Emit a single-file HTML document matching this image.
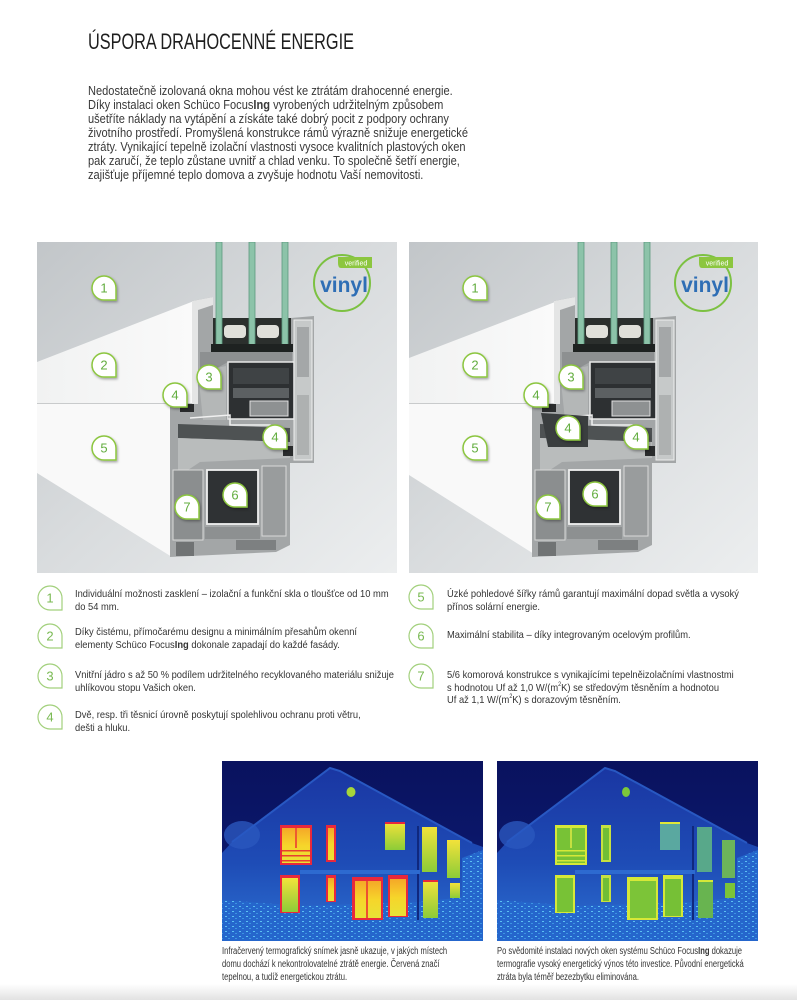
<!DOCTYPE html>
<html><head><meta charset="utf-8">
<style>
html,body{margin:0;padding:0;background:#fff;}
body{width:797px;height:1000px;position:relative;overflow:hidden;font-family:"Liberation Sans","DejaVu Sans",sans-serif;}
.t{position:absolute;white-space:nowrap;transform-origin:0 0;}
.title{left:88px;top:31px;font-size:22px;line-height:22px;color:#1e1e1e;transform:scaleX(0.74);}
.para{left:88px;top:84px;font-size:12.5px;line-height:14px;color:#383838;transform:scaleX(0.885);}
.li{font-size:10.5px;line-height:12.5px;color:#333;transform:scaleX(0.89);}
.cap{font-size:10px;line-height:13px;color:#333;transform:scaleX(0.76);}
sup{font-size:6px;line-height:0;vertical-align:5px;}
.abs{position:absolute;}
</style></head><body>

<div class="t title">ÚSPORA DRAHOCENNÉ ENERGIE</div>

<div class="t para">Nedostatečně izolovaná okna mohou vést ke ztrátám drahocenné energie.<br>Díky instalaci oken Schüco Focus<b>Ing</b> vyrobených udržitelným způsobem<br>ušetříte náklady na vytápění a získáte také dobrý pocit z podpory ochrany<br>životního prostředí. Promyšlená konstrukce rámů výrazně snižuje energetické<br>ztráty. Vynikající tepelně izolační vlastnosti vysoce kvalitních plastových oken<br>pak zaručí, že teplo zůstane uvnitř a chlad venku. To společně šetří energie,<br>zajišťuje příjemné teplo domova a zvyšuje hodnotu Vaší nemovitosti.</div>

<!-- window images -->
<svg class="abs" style="left:37px;top:242px" width="722" height="331" viewBox="37 242 722 331" font-family="Liberation Sans, sans-serif">
<defs>
 <linearGradient id="bg" x1="0" y1="0" x2="1" y2="1">
  <stop offset="0" stop-color="#c2c6c9"/><stop offset="0.5" stop-color="#d9dcde"/><stop offset="1" stop-color="#eceeef"/>
 </linearGradient>
 <linearGradient id="wup" x1="0" y1="0" x2="1" y2="0">
  <stop offset="0" stop-color="#f1f2f2"/><stop offset="1" stop-color="#fafafa"/>
 </linearGradient>
 <clipPath id="c1"><rect x="37" y="242" width="360" height="331"/></clipPath>
 <clipPath id="c2"><rect x="409" y="242" width="349" height="331"/></clipPath>
 <filter id="sh" x="-30%" y="-30%" width="170%" height="170%"><feDropShadow dx="1" dy="1.5" stdDeviation="1.3" flood-color="#000" flood-opacity="0.35"/></filter>
 <path id="tear" d="M-12,0 A12,12 0 0 1 12,0 L12,12 L0,12 A12,12 0 0 1 -12,0 Z"/>
 <g id="prof">
  <polygon points="192,301 213,297 213,350 291,350 291,318 314,316 314,463 290,463 290,545 276,552 170,557 170,404 192,404" fill="#a3a6a7"/>
  <polygon points="192,301 213,297 213,305 198,310 198,404 192,404" fill="#e4e5e5"/>
  <rect x="213" y="318" width="78" height="30" fill="#2b2f2d"/>
  <rect x="224" y="325" width="22" height="13" rx="4" fill="#e0e0da"/>
  <rect x="257" y="325" width="22" height="13" rx="4" fill="#e0e0da"/>
  <rect x="216" y="242" width="6" height="106" fill="#8cc3a9" stroke="#5d9a7f" stroke-width="0.8"/>
  <rect x="249" y="242" width="6" height="106" fill="#8cc3a9" stroke="#5d9a7f" stroke-width="0.8"/>
  <rect x="282" y="242" width="6" height="106" fill="#8cc3a9" stroke="#5d9a7f" stroke-width="0.8"/>
  <rect x="211" y="344" width="82" height="8" fill="#1e2221"/>
  <polygon points="200,352 292,352 292,362 228,362 210,372 200,372" fill="#8d9091"/>
  <polygon points="198,372 226,366 226,420 203,420" fill="#b4b7b7"/>
  <rect x="228" y="362" width="66" height="57" fill="#2d3032" stroke="#e8e8e8" stroke-width="1.5"/>
  <rect x="233" y="368" width="56" height="16" fill="#3f4345"/>
  <rect x="233" y="388" width="56" height="10" fill="#5c6062"/>
  <rect x="250" y="401" width="38" height="15" fill="#8e9192" stroke="#e0e0e0" stroke-width="1"/>
  <rect x="294" y="320" width="18" height="140" fill="#c6c9c9" stroke="#eee" stroke-width="1"/>
  <rect x="297" y="327" width="12" height="50" fill="#a4a7a8"/>
  <rect x="297" y="395" width="12" height="60" fill="#aeb1b1"/>
  <rect x="180" y="404" width="14" height="8" fill="#2a2c2d"/>
  <polyline points="190,418 230,415 230,425 270,425 275,430 288,430" stroke="#f0f0f0" stroke-width="1.5" fill="none"/>
  <polygon points="178,424 290,428 290,442 178,438" fill="#4e5253"/>
  <polygon points="178,438 290,442 290,458 200,462 188,470 178,470" fill="#b9bcbc"/>
  <rect x="283" y="446" width="10" height="10" fill="#2a2c2d"/>
  <rect x="173" y="470" width="30" height="70" fill="#8b8e8f" stroke="#d9d9d9"/>
  <rect x="207" y="470" width="51" height="54" fill="#2f3234" stroke="#f0f0f0" stroke-width="1.8"/>
  <rect x="262" y="466" width="24" height="70" fill="#999c9d" stroke="#d9d9d9"/>
  <rect x="205" y="527" width="55" height="12" fill="#8d9091"/>
  <rect x="176" y="542" width="18" height="14" fill="#707374"/>
  <rect x="236" y="540" width="40" height="10" fill="#7d8081"/>
 </g>
 <g id="vinyl">
  <circle cx="342" cy="283" r="28" fill="none" stroke="#7cc142" stroke-width="2"/>
  <path d="M338,257 L372,257 L372,268 L341,268 Q338,268 338,263 Z" fill="#8cc63f"/>
  <text x="356" y="265.5" font-size="7" fill="#fff" text-anchor="middle">verified</text>
  <text x="344" y="292" font-size="21" font-weight="bold" fill="#2e6eb5" text-anchor="middle">vinyl</text>
 </g>
</defs>

<!-- LEFT IMAGE -->
<g clip-path="url(#c1)">
 <rect x="37" y="242" width="360" height="331" fill="url(#bg)"/>
 <polygon points="37,362 194,301 194,403 37,403" fill="url(#wup)"/>
 <polygon points="37,404 172,404 172,557 37,473" fill="#f9f9f9"/>
 <line x1="37" y1="403.5" x2="192" y2="403.5" stroke="#c9cbcc" stroke-width="1"/>
 <use href="#prof"/>
 <use href="#vinyl"/>
</g>

<!-- RIGHT IMAGE -->
<g clip-path="url(#c2)">
 <rect x="409" y="242" width="349" height="331" fill="url(#bg)"/>
 <polygon points="409,358 555,302 555,403 409,403" fill="url(#wup)"/>
 <polygon points="409,404 534,404 534,554 409,475" fill="#f9f9f9"/>
 <line x1="409" y1="403.5" x2="553" y2="403.5" stroke="#c9cbcc" stroke-width="1"/>
 <use href="#prof" x="362"/>
 <polygon points="541,413 588,416 588,447 548,447" fill="#3a3e3f"/>
 <use href="#vinyl" x="361"/>
</g>

<g filter="url(#sh)" fill="#fff" stroke="#8cc63f" stroke-width="1.5">
 <use href="#tear" x="104" y="288"/><use href="#tear" x="104" y="365"/><use href="#tear" x="209" y="377"/>
 <use href="#tear" x="175" y="395"/><use href="#tear" x="104" y="448"/><use href="#tear" x="275" y="437"/>
 <use href="#tear" x="235" y="495"/><use href="#tear" x="187" y="507"/>
 <use href="#tear" x="475" y="288"/><use href="#tear" x="475" y="365"/><use href="#tear" x="571" y="377"/>
 <use href="#tear" x="536" y="395"/><use href="#tear" x="568" y="428"/><use href="#tear" x="475" y="448"/>
 <use href="#tear" x="636" y="437"/><use href="#tear" x="595" y="494"/><use href="#tear" x="548" y="507"/>
</g>
<g fill="#62ad3e" font-size="13" text-anchor="middle">
 <text x="104" y="292.5">1</text><text x="104" y="369.5">2</text><text x="209" y="381.5">3</text>
 <text x="175" y="399.5">4</text><text x="104" y="452.5">5</text><text x="275" y="441.5">4</text>
 <text x="235" y="499.5">6</text><text x="187" y="511.5">7</text>
 <text x="475" y="292.5">1</text><text x="475" y="369.5">2</text><text x="571" y="381.5">3</text>
 <text x="536" y="399.5">4</text><text x="568" y="432.5">4</text><text x="475" y="452.5">5</text>
 <text x="636" y="441.5">4</text><text x="595" y="498.5">6</text><text x="548" y="511.5">7</text>
</g>
</svg>

<!-- list icons -->
<svg class="abs" style="left:0;top:570px" width="797" height="170" viewBox="0 570 797 170" font-family="Liberation Sans, sans-serif">
 <defs><path id="tr2" d="M-12,0 A12,12 0 0 1 12,0 L12,12 L0,12 A12,12 0 0 1 -12,0 Z"/></defs>
 <g fill="#fff" stroke="#a2d07c" stroke-width="1.2">
  <use href="#tr2" x="50" y="598"/><use href="#tr2" x="50" y="636"/><use href="#tr2" x="50" y="676"/><use href="#tr2" x="50" y="717"/>
  <use href="#tr2" x="421" y="597"/><use href="#tr2" x="421" y="636"/><use href="#tr2" x="421" y="676"/>
 </g>
 <g fill="#78b951" font-size="13" text-anchor="middle">
  <text x="50" y="602.5">1</text><text x="50" y="640.5">2</text><text x="50" y="680.5">3</text><text x="50" y="721.5">4</text>
  <text x="421" y="601.5">5</text><text x="421" y="640.5">6</text><text x="421" y="680.5">7</text>
 </g>
</svg>

<div class="t li" style="left:75px;top:588px">Individuální možnosti zasklení – izolační a funkční skla o tloušťce od 10 mm<br>do 54 mm.</div>
<div class="t li" style="left:75px;top:626px">Díky čistému, přímočarému designu a minimálním přesahům okenní<br>elementy Schüco Focus<b>Ing</b> dokonale zapadají do každé fasády.</div>
<div class="t li" style="left:75px;top:669px">Vnitřní jádro s až 50 % podílem udržitelného recyklovaného materiálu snižuje<br>uhlíkovou stopu Vašich oken.</div>
<div class="t li" style="left:75px;top:709px">Dvě, resp. tři těsnicí úrovně poskytují spolehlivou ochranu proti větru,<br>dešti a hluku.</div>
<div class="t li" style="left:447px;top:588px">Úzké pohledové šířky rámů garantují maximální dopad světla a vysoký<br>přínos solární energie.</div>
<div class="t li" style="left:447px;top:629px">Maximální stabilita – díky integrovaným ocelovým profilům.</div>
<div class="t li" style="left:447px;top:669px">5/6 komorová konstrukce s vynikajícími tepelněizolačními vlastnostmi<br>s hodnotou Uf až 1,0 W/(m<sup>2</sup>K) se středovým těsněním a hodnotou<br>Uf až 1,1 W/(m<sup>2</sup>K) s dorazovým těsněním.</div>

<!-- thermal images -->
<svg class="abs" style="left:222px;top:761px" width="536" height="180" viewBox="222 761 536 180">
<defs>
 <linearGradient id="sky" x1="0" y1="0" x2="0" y2="1"><stop offset="0" stop-color="#09125e"/><stop offset="1" stop-color="#0e1d78"/></linearGradient>
 <linearGradient id="hs" x1="0" y1="0" x2="0" y2="1"><stop offset="0" stop-color="#1a36a2"/><stop offset="0.55" stop-color="#1e4cb6"/><stop offset="1" stop-color="#2d70d2"/></linearGradient>
 <linearGradient id="hot" x1="0" y1="0" x2="0" y2="1"><stop offset="0" stop-color="#f5a828"/><stop offset="0.5" stop-color="#f6d52a"/><stop offset="1" stop-color="#e8e236"/></linearGradient>
 <linearGradient id="yg" x1="0" y1="0" x2="0" y2="1"><stop offset="0" stop-color="#f2e23a"/><stop offset="1" stop-color="#8ccc38"/></linearGradient>
 <pattern id="spk" width="7" height="5" patternUnits="userSpaceOnUse"><rect width="7" height="5" fill="#2566cc"/><rect x="1" y="1" width="2" height="1" fill="#5cc0f2"/><rect x="4" y="3" width="2" height="1" fill="#3c94e2"/></pattern>
 <g id="house">
  <rect x="222" y="761" width="261" height="180" fill="url(#sky)"/>
  <polygon points="222,853 232,842 262,818 330,768 340,771 472,843 483,847 483,941 222,941" fill="url(#hs)"/>
  <ellipse cx="242" cy="835" rx="18" ry="14" fill="#2a58be" opacity="0.8"/>
  <polyline points="232,842 330,768 340,771 472,843" stroke="#2858c2" stroke-width="2" fill="none"/>
  <polygon points="462,858 483,850 483,905 462,905" fill="url(#spk)"/>
  <polygon points="222,900 300,906 420,902 483,895 483,941 222,941" fill="url(#spk)"/>
  <line x1="418" y1="826" x2="418" y2="920" stroke="#10287e" stroke-width="2"/>
  <rect x="300" y="870" width="120" height="4" fill="#2d6ad0"/>
 </g>
</defs>
<use href="#house"/>
<use href="#house" x="275"/>
<!-- hot windows -->
<g>
 <ellipse cx="351" cy="792" rx="4.5" ry="5" fill="#a6d63a"/>
 <rect x="280" y="825" width="32" height="40" fill="#e8283c"/><rect x="282" y="828" width="28" height="35" fill="url(#hot)"/>
 <rect x="295" y="828" width="2" height="20" fill="#ee5a30"/>
 <rect x="282" y="850" width="28" height="1.5" fill="#e84030"/><rect x="282" y="855" width="28" height="1.5" fill="#e84030"/><rect x="282" y="860" width="28" height="1.5" fill="#e84030"/>
 <rect x="326" y="825" width="10" height="37" fill="#e8283c"/><rect x="328" y="828" width="6" height="32" fill="url(#hot)"/>
 <rect x="385" y="822" width="20" height="28" fill="url(#yg)"/><rect x="385" y="822" width="20" height="2" fill="#e8283c"/>
 <rect x="422" y="827" width="15" height="45" fill="url(#yg)"/>
 <rect x="447" y="840" width="13" height="38" fill="url(#yg)"/>
 <rect x="280" y="875" width="20" height="38" fill="#e8283c"/><rect x="282" y="878" width="16" height="34" fill="url(#yg)"/>
 <rect x="326" y="875" width="10" height="27" fill="#e8283c"/><rect x="328" y="878" width="6" height="23" fill="url(#hot)"/>
 <rect x="352" y="877" width="31" height="43" fill="#e8283c"/><rect x="355" y="881" width="26" height="37" fill="url(#hot)"/>
 <rect x="366" y="881" width="2" height="37" fill="#ee5030"/>
 <rect x="388" y="875" width="20" height="42" fill="#e8283c"/><rect x="390" y="879" width="16" height="37" fill="url(#hot)"/>
 <rect x="423" y="880" width="15" height="38" fill="url(#yg)"/><rect x="423" y="880" width="15" height="2" fill="#e8283c"/>
 <rect x="450" y="883" width="10" height="15" fill="url(#yg)"/>
</g>
<!-- cold windows -->
<g>
 <ellipse cx="626" cy="792" rx="4" ry="5" fill="#7cc83a"/>
 <rect x="555" y="825" width="32" height="40" fill="#d6e838"/><rect x="557" y="828" width="28" height="35" fill="#78c236"/>
 <rect x="570" y="828" width="2" height="20" fill="#c6e040"/>
 <rect x="557" y="850" width="28" height="1.5" fill="#d6e838"/><rect x="557" y="855" width="28" height="1.5" fill="#d6e838"/><rect x="557" y="860" width="28" height="1.5" fill="#d6e838"/>
 <rect x="601" y="825" width="10" height="37" fill="#c6e040"/><rect x="603" y="828" width="6" height="32" fill="#70be36"/>
 <rect x="660" y="822" width="20" height="28" fill="#5aa8a0"/><rect x="660" y="822" width="20" height="2" fill="#e0e838"/>
 <rect x="697" y="827" width="15" height="45" fill="#58a88a"/>
 <rect x="722" y="840" width="13" height="38" fill="#6cb45a"/>
 <rect x="555" y="875" width="20" height="38" fill="#d6e838"/><rect x="557" y="878" width="16" height="34" fill="#78c236"/>
 <rect x="601" y="875" width="10" height="27" fill="#c6e040"/><rect x="603" y="878" width="6" height="23" fill="#70be36"/>
 <rect x="627" y="877" width="31" height="43" fill="#d6e838"/><rect x="630" y="881" width="26" height="37" fill="#7cc438"/>
 <rect x="663" y="875" width="20" height="42" fill="#d6e838"/><rect x="665" y="879" width="16" height="37" fill="#76c036"/>
 <rect x="698" y="880" width="15" height="38" fill="#68b450"/><rect x="698" y="880" width="15" height="2" fill="#d6e838"/>
 <rect x="725" y="883" width="10" height="15" fill="#7cc438"/>
</g>
</svg>

<div class="t cap" style="left:222px;top:945px">Infračervený termografický snímek jasně ukazuje, v jakých místech<br>domu dochází k nekontrolovatelné ztrátě energie. Červená značí<br>tepelnou, a tudíž energetickou ztrátu.</div>
<div class="t cap" style="left:497px;top:945px">Po svědomité instalaci nových oken systému Schüco Focus<b>Ing</b> dokazuje<br>termografie vysoký energetický výnos této investice. Původní energetická<br>ztráta byla téměř bezezbytku eliminována.</div>

<div class="abs" style="left:0;top:984px;width:797px;height:16px;background:linear-gradient(#ffffff,#e2e2e2);"></div>

</body></html>
